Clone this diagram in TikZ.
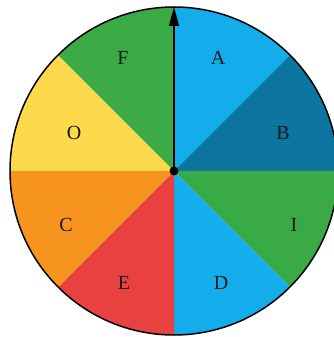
\documentclass[tikz,border=0pt]{standalone}
\usepackage{fontspec}
\setmainfont{Liberation Serif}
\usetikzlibrary{arrows.meta}
\definecolor{lblue}{HTML}{13ADEB}
\definecolor{dblue}{HTML}{0D76A0}
\definecolor{sgreen}{HTML}{3AAA47}
\definecolor{syellow}{HTML}{FDD94C}
\definecolor{sorange}{HTML}{F6941F}
\definecolor{sred}{HTML}{E8413F}
\begin{document}
\begin{tikzpicture}[x=1pt,y=1pt,
  lbl/.style={font=\fontsize{20}{20}\selectfont, text=black!90}]
\useasboundingbox (0,0) rectangle (334,337);
\clip (0,0) rectangle (334,337);
\coordinate (O) at (174,166);
\def\R{164}
\fill[lblue]   (O) -- ++(90:\R)  arc (90:45:\R)   -- cycle;
\fill[dblue]   (O) -- ++(45:\R)  arc (45:0:\R)    -- cycle;
\fill[sgreen]  (O) -- ++(0:\R)   arc (0:-45:\R)   -- cycle;
\fill[lblue]   (O) -- ++(-45:\R) arc (-45:-90:\R) -- cycle;
\fill[sred]    (O) -- ++(-90:\R) arc (-90:-135:\R) -- cycle;
\fill[sorange] (O) -- ++(-135:\R) arc (-135:-180:\R) -- cycle;
\fill[syellow] (O) -- ++(180:\R) arc (180:135:\R) -- cycle;
\fill[sgreen]  (O) -- ++(135:\R) arc (135:90:\R)  -- cycle;
\draw[line width=1.5pt] (O) circle (\R);
\node[lbl] (a) at (218,279) {A};
\node[lbl] (b) at (283,204) {B};
\node[lbl] (i) at (294,112) {I};
\node[lbl] (d) at (221,54) {D};
\node[lbl] (e) at (124,54) {E};
\node[lbl] (c) at (66,112) {C};
\node[lbl] (o) at (74,204) {O};
\node[lbl] (f) at (123,279) {F};
\coordinate (tip) at (174,330);
\draw[line width=1.7pt, -{Triangle[length=19pt,width=10pt]}] (O) -- (tip);
\fill (O) circle (4.5);
\end{tikzpicture}
\end{document}
